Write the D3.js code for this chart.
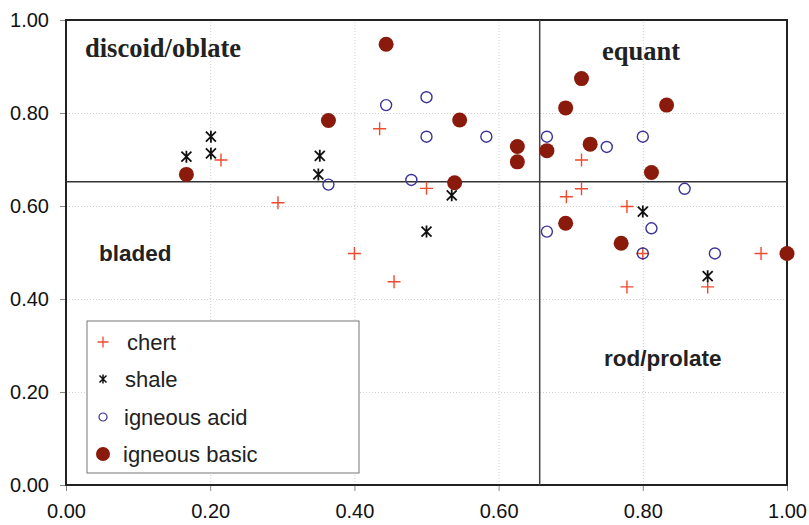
<!DOCTYPE html>
<html>
<head>
<meta charset="utf-8">
<script src="https://cdn.jsdelivr.net/npm/d3@7"></script>
<style>
  body { margin: 0; background: #fff; }
  .axis text { font-family: "Liberation Sans", Arial, sans-serif; font-size: 20px; fill: #111; }
  .axis path { display: none; }
  .axis line { stroke: #888; }
  .grid line { stroke: #cfcfcf; stroke-dasharray: 1,2; }
  .grid path { display: none; }
</style>
</head>
<body>
<svg id="chart"></svg>
<script>
// chert
const chertX = [0.215, 0.294, 0.435, 0.500, 0.400, 0.455, 0.715, 0.715, 0.694, 0.778, 0.800, 0.964, 0.890, 0.778];
const chertY = [0.699, 0.607, 0.766, 0.638, 0.498, 0.437, 0.699, 0.637, 0.620, 0.599, 0.498, 0.498, 0.426, 0.426];
// shale
const shaleX = [0.167, 0.201, 0.201, 0.352, 0.350, 0.535, 0.500, 0.800, 0.890];
const shaleY = [0.706, 0.749, 0.713, 0.708, 0.668, 0.623, 0.545, 0.588, 0.449];
// igneous acid
const acidX = [0.364, 0.444, 0.500, 0.500, 0.583, 0.667, 0.479, 0.667, 0.750, 0.800, 0.858, 0.812, 0.800, 0.900];
const acidY = [0.646, 0.817, 0.834, 0.749, 0.749, 0.749, 0.656, 0.545, 0.727, 0.749, 0.637, 0.552, 0.498, 0.498];
// igneous basic
const basicX = [0.167, 0.364, 0.444, 0.546, 0.626, 0.626, 0.667, 0.539, 0.715, 0.693, 0.833, 0.727, 0.812, 0.693, 0.770, 1.000];
const basicY = [0.668, 0.784, 0.948, 0.785, 0.728, 0.695, 0.719, 0.650, 0.874, 0.811, 0.817, 0.733, 0.672, 0.563, 0.520, 0.498];

const seriesNames = ['chert', 'shale', 'igneous acid', 'igneous basic'];
const ticks = [0, 0.2, 0.4, 0.6, 0.8, 1.0];
// quadrant dividers
const splitX = 0.657;
const splitY = 0.652;

const width = 809, height = 525;
const margin = {top: 20, right: 22, bottom: 40, left: 66};
const innerW = width - margin.left - margin.right;
const innerH = height - margin.top - margin.bottom;

const svg = d3.select('#chart').attr('width', width).attr('height', height);
const chart = svg.append('g').attr('transform', `translate(${margin.left},${margin.top})`);

const xScale = d3.scaleLinear().domain([0, 1]).range([0, innerW]);
const yScale = d3.scaleLinear().domain([0, 1]).range([innerH, 0]);

// gridlines
chart.append('g').attr('class', 'grid')
    .attr('transform', `translate(0,${innerH})`)
    .call(d3.axisBottom(xScale).tickValues([0.2, 0.4, 0.6, 0.8]).tickSize(-innerH).tickFormat(''));
chart.append('g').attr('class', 'grid')
    .call(d3.axisLeft(yScale).tickValues([0.2, 0.4, 0.6, 0.8]).tickSize(-innerW).tickFormat(''));

// axes
chart.append('g').attr('class', 'axis')
    .attr('transform', `translate(0,${innerH})`)
    .call(d3.axisBottom(xScale).tickValues(ticks).tickSize(6).tickPadding(7).tickFormat(d3.format('.2f')))
    .selectAll('text').attr('dy', '1.0em');
chart.append('g').attr('class', 'axis')
    .call(d3.axisLeft(yScale).tickValues(ticks).tickSize(6).tickPadding(11).tickFormat(d3.format('.2f')));

// frame
chart.append('rect')
    .attr('x', 0).attr('y', 0).attr('width', innerW).attr('height', innerH)
    .attr('fill', 'none').attr('stroke', '#222').attr('stroke-width', 2);

// quadrant lines
chart.append('line')
    .attr('x1', xScale(splitX)).attr('x2', xScale(splitX))
    .attr('y1', 0).attr('y2', innerH)
    .attr('stroke', '#444').attr('stroke-width', 1.5);
chart.append('line')
    .attr('x1', 0).attr('x2', innerW)
    .attr('y1', yScale(splitY)).attr('y2', yScale(splitY))
    .attr('stroke', '#333').attr('stroke-width', 1.5);

// region labels
const serif = '"Liberation Serif", "Times New Roman", serif';
const sans = '"Liberation Sans", Arial, sans-serif';
chart.append('text').attr('x', 19).attr('y', 37)
    .attr('font-family', serif).attr('font-weight', 'bold').attr('font-size', 26.5).attr('fill', '#222')
    .text('discoid/oblate');
chart.append('text').attr('x', 536).attr('y', 40)
    .attr('font-family', serif).attr('font-weight', 'bold').attr('font-size', 26.5).attr('fill', '#222')
    .text('equant');
chart.append('text').attr('x', 33).attr('y', 241)
    .attr('font-family', sans).attr('font-weight', 'bold').attr('font-size', 22.5).attr('fill', '#222')
    .text('bladed');
chart.append('text').attr('x', 538).attr('y', 346)
    .attr('font-family', sans).attr('font-weight', 'bold').attr('font-size', 22.5).attr('fill', '#222')
    .text('rod/prolate');

// markers
const plusPath = s => `M${-s},0H${s}M0,${-s}V${s}`;
const starPath = s => `M${-s},${-s}L${s},${s}M${-s},${s}L${s},${-s}M0,${-s - 1}V${s + 1}`;

const pts = (xs, ys) => xs.map((x, i) => ({x, y: ys[i]}));

chart.append('g').selectAll('path')
    .data(pts(chertX, chertY)).join('path')
    .attr('transform', d => `translate(${xScale(d.x)},${yScale(d.y)})`)
    .attr('d', plusPath(6.5))
    .attr('stroke', '#ee4a2e').attr('stroke-width', 1.4).attr('fill', 'none');

chart.append('g').selectAll('path')
    .data(pts(shaleX, shaleY)).join('path')
    .attr('transform', d => `translate(${xScale(d.x)},${yScale(d.y)})`)
    .attr('d', starPath(5))
    .attr('stroke', '#111').attr('stroke-width', 1.8).attr('fill', 'none');

chart.append('g').selectAll('circle')
    .data(pts(acidX, acidY)).join('circle')
    .attr('cx', d => xScale(d.x)).attr('cy', d => yScale(d.y)).attr('r', 5.5)
    .attr('fill', 'none').attr('stroke', '#3b3399').attr('stroke-width', 1.4);

chart.append('g').selectAll('circle')
    .data(pts(basicX, basicY)).join('circle')
    .attr('cx', d => xScale(d.x)).attr('cy', d => yScale(d.y)).attr('r', 7.5)
    .attr('fill', '#8a1a0b');

// legend
const legend = svg.append('g').attr('transform', 'translate(87,321)');
legend.append('rect').attr('width', 272).attr('height', 152)
    .attr('fill', '#fff').attr('stroke', '#777').attr('stroke-width', 1);

const rowY = [21, 58, 96, 133];
const textX = [40, 38, 37, 36];
seriesNames.forEach((name, i) => {
  const g = legend.append('g').attr('transform', `translate(16,${rowY[i]})`);
  if (i === 0) g.append('path').attr('d', plusPath(5.5)).attr('stroke', '#ee4a2e').attr('stroke-width', 1.3).attr('fill', 'none');
  if (i === 1) g.append('path').attr('d', 'M-3.5,-3.5L3.5,3.5M-3.5,3.5L3.5,-3.5M0,-4.5V4.5').attr('stroke', '#111').attr('stroke-width', 1.5).attr('fill', 'none');
  if (i === 2) g.append('circle').attr('r', 4).attr('fill', 'none').attr('stroke', '#3b3399').attr('stroke-width', 1.2);
  if (i === 3) g.append('circle').attr('r', 7).attr('fill', '#8a1a0b');
  legend.append('text').attr('x', textX[i]).attr('y', rowY[i] + 8)
      .attr('font-family', sans).attr('font-size', 22).attr('fill', '#222')
      .text(name);
});
</script>
</body>
</html>
